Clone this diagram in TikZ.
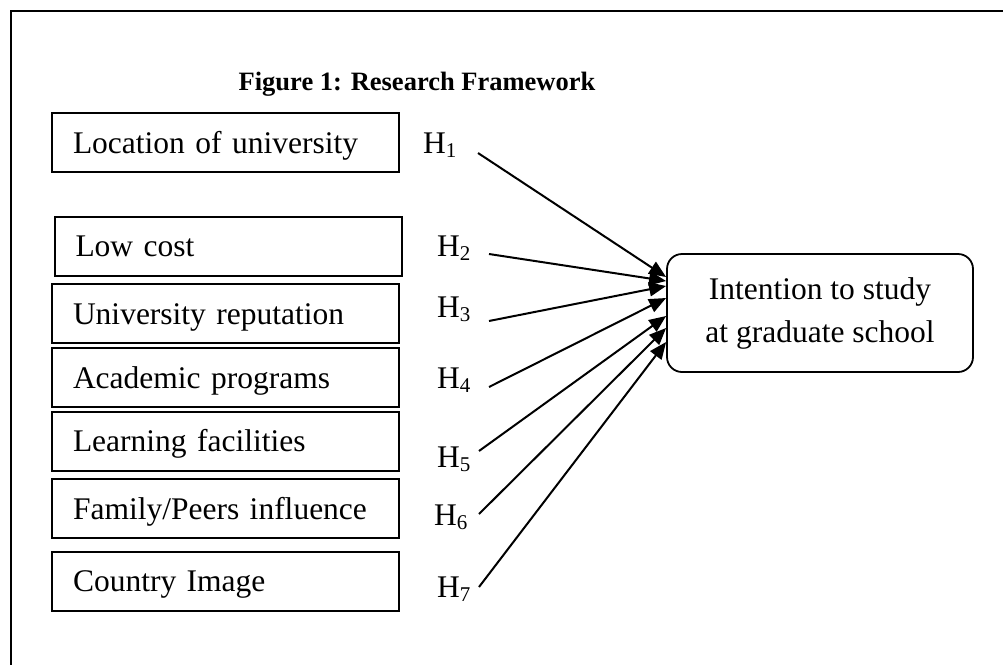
\documentclass[tikz,border=0pt]{standalone}
\usepackage{fontspec}
\setmainfont{Liberation Serif}
\usetikzlibrary{arrows.meta,positioning,calc}

% hypothesis label with a small lowered index
\newcommand{\hyplabel}[1]{H\raisebox{-4pt}{\fontsize{21}{21}\selectfont #1}}

\begin{document}
\begin{tikzpicture}[
    x=1pt, y=-1pt,
    font=\fontsize{31.5}{43}\selectfont,
    >={Triangle[width=14pt,length=17pt]},
    factor/.style={draw, line width=2pt, inner xsep=21pt, text width=305pt,
                   minimum height=59pt, align=left, text height=24pt, text depth=3pt},
    goal/.style={draw, line width=1.8pt, rounded corners=15pt, align=center,
                 minimum width=306pt, minimum height=118pt},
    hyp/.style={anchor=base west, inner sep=0pt},
    title/.style={anchor=base, inner sep=0pt, font=\fontsize{26.5}{30}\selectfont\bfseries},
    arr/.style={->, line width=2pt}
  ]
  \useasboundingbox (0,0) rectangle (1003,664);

  % ---------- frame --------------------------------------------------------
  \draw[line width=1.9pt] (11,680) -- (11,11) -- (1020,11);

  \node[title] (title) at (417,90) {Figure 1: Research Framework};

  % ---------- factors ------------------------------------------------------
  \node[factor] (loc)  at (225.5,142.5) {Location of university};
  \node[factor] (cost) at (228,246)     {Low cost};
  \node[factor] (rep)  at (225.5,313.5) {University reputation};
  \node[factor] (prog) at (225.5,377.5) {Academic programs};
  \node[factor] (fac)  at (225.5,441)   {Learning facilities};
  \node[factor] (fam)  at (225.5,508.5) {Family/Peers influence};
  \node[factor] (img)  at (225.5,581)   {Country Image};

  \node[goal] (goal) at (820,313) {Intention to study\\at graduate school};

  % ---------- hypotheses ---------------------------------------------------
  \node[hyp] (h1) at (423,153) {\hyplabel{1}};
  \node[hyp] (h2) at (437,256) {\hyplabel{2}};
  \node[hyp] (h3) at (437,317) {\hyplabel{3}};
  \node[hyp] (h4) at (437,388) {\hyplabel{4}};
  \node[hyp] (h5) at (437,467) {\hyplabel{5}};
  \node[hyp] (h6) at (434,525) {\hyplabel{6}};
  \node[hyp] (h7) at (437,597) {\hyplabel{7}};

  % arrows leave just right of each label
  \coordinate (s1) at (478,153);
  \coordinate (s2) at (489,254);
  \coordinate (s3) at (489,321);
  \coordinate (s4) at (489,387);
  \coordinate (s5) at (479,451);
  \coordinate (s6) at (479,514);
  \coordinate (s7) at (479,587);

  % ---------- paths --------------------------------------------------------
  \draw[arr] (s1) -- ([yshift=36pt]goal.west);
  \draw[arr] (s2) -- ([yshift=32pt]goal.west);
  \draw[arr] (s3) -- ([yshift=27pt]goal.west);
  \draw[arr] (s4) -- ([yshift=15pt]goal.west);
  \draw[arr] (s5) -- ([yshift=-3pt]goal.west);
  \draw[arr] (s6) -- ([yshift=-15pt]goal.west);
  \draw[arr] (s7) -- ([yshift=-29pt]goal.west);

\end{tikzpicture}
\end{document}
